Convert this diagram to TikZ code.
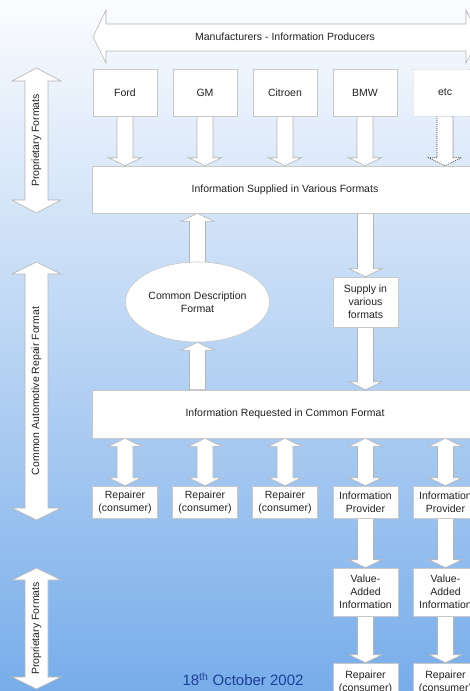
\documentclass[tikz,border=0pt]{standalone}
\usepackage{fontspec}
\setmainfont{Liberation Sans}
\usetikzlibrary{shapes.geometric,calc}
\definecolor{bgtop}{HTML}{FBFCFE}
\definecolor{bgmid}{HTML}{D5E4F7}
\definecolor{bgbot}{HTML}{78ADEA}
\definecolor{edge}{HTML}{B4B4B4}
\definecolor{boxedge}{HTML}{C8C8C8}
\definecolor{txt}{HTML}{222222}
\definecolor{datecol}{HTML}{1E3E98}
\pgfdeclarelayer{bg}
\pgfdeclarelayer{arr}
\pgfsetlayers{bg,arr,main}
\tikzset{
  box/.style={draw=boxedge, fill=white, line width=0.6pt,
    font=\fontsize{10.5}{12.8}\selectfont, text=txt, align=center, inner sep=0pt},
  barrow/.style={draw=edge, fill=white, line width=0.6pt},
  lbl/.style={font=\fontsize{10.5}{12.8}\selectfont, text=txt, align=center, inner sep=0pt},
  topbox/.style={box, minimum width=64pt, minimum height=47pt},
  lowbox/.style={box, minimum width=65pt, minimum height=32pt},
  vabox/.style={box, minimum width=65pt, minimum height=48pt},
  dotarrow/.style={draw=black!75, dash pattern=on 1pt off 1pt},
}
\newcommand\arrDown[3][]{\begin{pgfonlayer}{arr}\draw[barrow,#1] let \p1=(#2), \p2=(#3) in
  (\x1-8pt,\y1) -- (\x1+8pt,\y1) -- (\x1+8pt,\y2+8pt) -- (\x1+16.5pt,\y2+8pt) -- (\x1,\y2)
  -- (\x1-16.5pt,\y2+8pt) -- (\x1-8pt,\y2+8pt) -- cycle;\end{pgfonlayer}}
\newcommand\arrUp[3][]{\begin{pgfonlayer}{arr}\draw[barrow,#1] let \p1=(#2), \p2=(#3) in
  (\x1-8pt,\y1) -- (\x1+8pt,\y1) -- (\x1+8pt,\y2-8pt) -- (\x1+16.5pt,\y2-8pt) -- (\x1,\y2)
  -- (\x1-16.5pt,\y2-8pt) -- (\x1-8pt,\y2-8pt) -- cycle;\end{pgfonlayer}}
\newcommand\arrBoth[2]{\begin{pgfonlayer}{arr}\draw[barrow] let \p1=(#1), \p2=(#2) in
  (\x1,\y1) -- (\x1+16.5pt,\y1-8pt) -- (\x1+8pt,\y1-8pt) -- (\x1+8pt,\y2+8pt)
  -- (\x1+16.5pt,\y2+8pt) -- (\x1,\y2) -- (\x1-16.5pt,\y2+8pt) -- (\x1-8pt,\y2+8pt)
  -- (\x1-8pt,\y1-8pt) -- (\x1-16.5pt,\y1-8pt) -- cycle;\end{pgfonlayer}}
\begin{document}
\begin{tikzpicture}[x=1pt,y=-1pt]
\useasboundingbox (0,0) rectangle (470,691);
\begin{pgfonlayer}{bg}
\shade[top color=bgtop, middle color=bgmid, bottom color=bgbot] (0,0) rectangle (470,691);
\end{pgfonlayer}

% top producers arrow
\draw[barrow] (93,37) -- (106,10) -- (106,24) -- (466,24) -- (466,10) -- (479,37)
  -- (466,63) -- (466,51) -- (106,51) -- (106,63) -- cycle;
\node[lbl] (manuf) at (285,37) {Manufacturers - Information Producers};

% left side arrows
\draw[barrow] (36.5,68) -- (61,81) -- (48,81) -- (48,200) -- (61,200) -- (36.5,213)
  -- (12,200) -- (25,200) -- (25,81) -- (12,81) -- cycle;
\node[lbl, rotate=90] (prop1) at (36.5,140.5) {Proprietary Formats};
\draw[barrow] (36.5,262) -- (61,274) -- (48,274) -- (48,508) -- (61,508) -- (36.5,520)
  -- (12,508) -- (25,508) -- (25,274) -- (12,274) -- cycle;
\node[lbl, rotate=90] (carf) at (36.5,391) {Common Automotive Repair Format};
\draw[barrow] (36.5,568) -- (61,580) -- (48,580) -- (48,677) -- (61,677) -- (36.5,689)
  -- (12,677) -- (25,677) -- (25,580) -- (12,580) -- cycle;
\node[lbl, rotate=90] (prop2) at (36.5,628.5) {Proprietary Formats};

% manufacturer boxes
\node[topbox] (ford) at (125,92.5) {Ford};
\node[topbox] (gm) at (205,92.5) {GM};
\node[topbox] (citroen) at (285,92.5) {Citroen};
\node[topbox] (bmw) at (365,92.5) {BMW};
\node[topbox, draw=boxedge!70, dash pattern=on 1pt off 1pt] (etc) at (445,92.5) {etc};

\node[box, minimum width=386pt, minimum height=47pt] (supplied) at (285,189.5)
  {Information Supplied in Various Formats};

\arrDown{ford.south}{ford.south |- supplied.north}
\arrDown{gm.south}{gm.south |- supplied.north}
\arrDown{citroen.south}{citroen.south |- supplied.north}
\arrDown{bmw.south}{bmw.south |- supplied.north}
\arrDown[dotarrow]{etc.south}{etc.south |- supplied.north}

\node[box, ellipse, minimum width=144pt, minimum height=80pt] (cdf) at (197.5,302)
  {Common Description\\Format};
\node[box, minimum width=65pt, minimum height=50pt] (supply) at (365.5,302)
  {Supply in\\various\\formats};

\node[box, minimum width=386pt, minimum height=48pt] (requested) at (285,414)
  {Information Requested in Common Format};

\arrUp{cdf.center}{cdf.center |- supplied.south}
\arrUp{cdf.south |- requested.north}{cdf.south}
\arrDown{supply.north |- supplied.south}{supply.north}
\arrDown{supply.south}{supply.south |- requested.north}

% consumers / providers
\node[lowbox] (rep1) at (125,502) {Repairer\\(consumer)};
\node[lowbox] (rep2) at (205,502) {Repairer\\(consumer)};
\node[lowbox] (rep3) at (285,502) {Repairer\\(consumer)};
\node[lowbox] (prov1) at (365.5,502) {Information\\Provider};
\node[lowbox] (prov2) at (445.5,502) {Information\\Provider};

\arrBoth{rep1.north |- requested.south}{rep1.north}
\arrBoth{rep2.north |- requested.south}{rep2.north}
\arrBoth{rep3.north |- requested.south}{rep3.north}
\arrBoth{prov1.north |- requested.south}{prov1.north}
\arrBoth{prov2.north |- requested.south}{prov2.north}

\node[vabox] (va1) at (365.5,592) {Value-\\Added\\Information};
\node[vabox] (va2) at (445.5,592) {Value-\\Added\\Information};
\node[box, minimum width=65pt, minimum height=38pt] (rep4) at (365.5,682) {Repairer\\(consumer)};
\node[box, minimum width=65pt, minimum height=38pt] (rep5) at (445.5,682) {Repairer\\(consumer)};

\arrDown{prov1.south}{va1.north}
\arrDown{prov2.south}{va2.north}
\arrDown{va1.south}{rep4.north}
\arrDown{va2.south}{rep5.north}

\node[font=\fontsize{15}{18}\selectfont, text=datecol, inner sep=0pt] (date) at (243,679)
  {18\textsuperscript{th} October 2002};
\end{tikzpicture}
\end{document}
